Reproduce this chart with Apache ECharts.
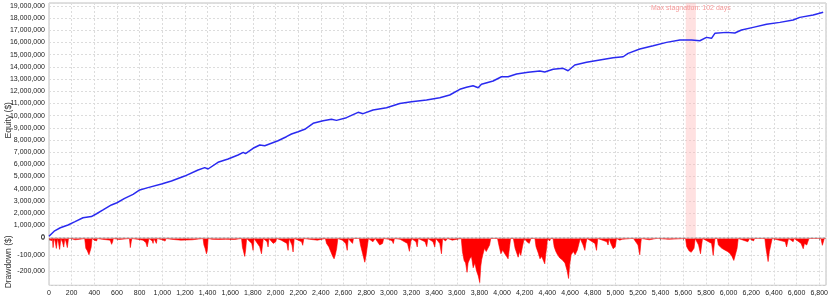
<!DOCTYPE html>
<html>
<head>
<meta charset="utf-8">
<script src="https://cdn.jsdelivr.net/npm/echarts@6/dist/echarts.min.js"></script>
<style>
html,body{margin:0;padding:0;background:#fff;}
#c{width:830px;height:297px;}
</style>
</head>
<body>
<div id="c"></div>
<script>
// Equity curve: [trade/day index, equity $]
const equityX = [0,50,100,168,230,300,374,420,477,551,600,668,742,801,874,993,1081,1198,1316,1375,1404,1492,1581,1669,1715,1735,1802,1861,1905,2022,2096,2141,2199,2258,2332,2420,2494,2538,2626,2729,2773,2861,2980,3097,3200,3333,3450,3538,3627,3686,3744,3789,3818,3921,3995,4053,4128,4230,4333,4377,4451,4539,4583,4642,4746,4863,4981,5069,5113,5216,5334,5452,5570,5673,5746,5805,5849,5879,5982,6055,6114,6217,6335,6453,6570,6629,6747,6835];
const equityY = [100000,550000,800000,1030000,1300000,1620000,1720000,1950000,2260000,2670000,2850000,3210000,3540000,3900000,4090000,4390000,4640000,5040000,5540000,5730000,5620000,6170000,6440000,6770000,6980000,6880000,7320000,7590000,7530000,7940000,8270000,8490000,8680000,8880000,9370000,9580000,9700000,9610000,9830000,10270000,10160000,10460000,10650000,11000000,11140000,11280000,11470000,11690000,12160000,12320000,12450000,12290000,12570000,12840000,13190000,13190000,13410000,13550000,13660000,13580000,13800000,13880000,13680000,14150000,14370000,14560000,14750000,14830000,15110000,15460000,15730000,16010000,16200000,16200000,16140000,16420000,16340000,16750000,16830000,16780000,17020000,17240000,17490000,17650000,17840000,18060000,18250000,18480000];

// Drawdown: [index, drawdown $]
const drawdownX = [0,20,30,36,45,55,65,75,85,94,105,120,130,140,150,162,172,185,195,230,240,270,280,315,325,338,353,362,372,380,400,412,420,428,470,478,540,553,562,568,620,628,710,718,726,732,780,790,830,840,855,867,875,882,912,919,926,940,948,955,1000,1010,1025,1035,1080,1090,1165,1175,1265,1275,1360,1368,1378,1390,1398,1405,1440,1450,1500,1510,1560,1570,1640,1650,1700,1708,1716,1728,1736,1745,1790,1802,1810,1860,1876,1885,1892,1925,1934,1942,1980,1993,2002,2010,2050,2060,2100,2111,2120,2145,2155,2165,2200,2210,2230,2240,2250,2300,2310,2370,2380,2440,2450,2470,2490,2505,2517,2528,2540,2550,2590,2600,2620,2633,2642,2680,2688,2740,2750,2768,2788,2800,2812,2820,2860,2870,2880,2900,2920,2935,2945,2955,3000,3010,3030,3040,3050,3100,3110,3165,3182,3192,3200,3240,3251,3260,3320,3335,3345,3390,3406,3415,3450,3465,3475,3500,3510,3520,3560,3570,3640,3650,3665,3678,3691,3700,3715,3730,3745,3760,3775,3790,3803,3812,3820,3830,3845,3860,3875,3890,3900,3960,3975,3990,4005,4024,4040,4053,4065,4075,4100,4115,4130,4142,4155,4165,4180,4195,4220,4240,4255,4290,4300,4320,4335,4350,4377,4385,4395,4400,4420,4430,4450,4460,4475,4490,4510,4530,4555,4575,4587,4597,4610,4630,4645,4665,4680,4690,4715,4731,4740,4750,4820,4834,4845,4925,4936,4945,4960,4981,5000,5010,5040,5060,5070,5140,5150,5160,5200,5216,5225,5230,5300,5310,5360,5370,5380,5470,5480,5620,5630,5650,5670,5682,5695,5705,5735,5752,5762,5770,5850,5864,5873,5880,5900,5910,5940,5965,5990,6010,6030,6046,6060,6075,6085,6170,6177,6185,6220,6230,6320,6330,6349,6360,6375,6385,6500,6512,6522,6530,6570,6580,6640,6659,6670,6690,6700,6710,6815,6828,6838,6845,6860];
const drawdownY = [0,-15000,0,-56000,0,-20000,-61000,0,-30000,-67000,0,-25000,-53000,0,-20000,-56000,0,-10000,0,-8000,0,-5000,0,0,-60000,-75000,-100000,-80000,-55000,0,-10000,-20000,-15000,0,-5000,0,-10000,-36000,-20000,0,-6000,0,0,-56000,-20000,0,-5000,0,-10000,0,-25000,-52000,-40000,0,-15000,-30000,0,-10000,-30000,0,-8000,0,-16000,0,-5000,0,-10000,0,-8000,0,0,-40000,-60000,-94000,-70000,0,-5000,0,-6000,0,-5000,0,-6000,0,0,-55000,-75000,-110000,-70000,0,-30000,-73000,0,-50000,-94000,-40000,0,-20000,-52000,0,-30000,-42000,-20000,0,-10000,0,-30000,-73000,0,-40000,-83000,0,-10000,0,-20000,-42000,0,-5000,0,-10000,0,0,-30000,-50000,-85000,-110000,-125000,-100000,-60000,0,-10000,0,-30000,-73000,0,-30000,0,0,-40000,-90000,-146000,-100000,-40000,0,-20000,-30000,0,-20000,-40000,-52000,-30000,0,-5000,0,-15000,-31000,0,-5000,0,-30000,-79000,-30000,0,-20000,-52000,0,-20000,-50000,0,-20000,-52000,0,-30000,-94000,0,-15000,-20000,0,-10000,0,0,-80000,-135000,-150000,-208000,-150000,-125000,-110000,-180000,-150000,-200000,-230000,-271000,-170000,-130000,-100000,-60000,-80000,-90000,-40000,0,0,-50000,-94000,-70000,-94000,-110000,-125000,-60000,0,0,-60000,-90000,-115000,-80000,-104000,-50000,0,-20000,-30000,0,0,-50000,-90000,-125000,-110000,-156000,-100000,-50000,0,-15000,0,0,-50000,-80000,-100000,-120000,-130000,-150000,-200000,-246000,-160000,-100000,-80000,-100000,-70000,-60000,0,-40000,-73000,-30000,0,-30000,-73000,0,-20000,-40000,0,-30000,-63000,-50000,0,-10000,-5000,0,0,-10000,0,-40000,-100000,-30000,0,-8000,0,0,-10000,0,-5000,0,0,-50000,-75000,-85000,-94000,-60000,0,-40000,-94000,-40000,0,-30000,-104000,-40000,0,0,-40000,-60000,-70000,-80000,-90000,-110000,-135000,-100000,-60000,0,-20000,-31000,0,-15000,0,0,-60000,-142000,-80000,-70000,0,-20000,-52000,-20000,0,-20000,0,-30000,-63000,-30000,-40000,-50000,0,0,-42000,-40000,0,0];

// Max stagnation period
const stagnationRange = [5622, 5711];
const stagnationLabel = 'Max stagnation: 102 days';

const equityData = equityX.map((x, i) => [x, equityY[i]]);
// drawdown axis is drawn inverted (depth below zero), so plot the depth
const drawdownData = drawdownX.map((x, i) => [x, -drawdownY[i]]);

const fmt = v => Math.round(v).toLocaleString('en-US');
const FONT = '"Liberation Sans", Arial, sans-serif';
const gridLine = {show: true, lineStyle: {color: '#dcdcdc', type: [2, 2], width: 1}};
const nameStyle = {fontSize: 8.5, color: '#333', fontFamily: FONT};

const chart = echarts.init(document.getElementById('c'), null, {renderer: 'canvas'});
chart.setOption({
  animation: false,
  backgroundColor: '#ffffff',
  grid: [
    {left: 49, right: 4, top: 3, height: 234.5, show: true, borderColor: '#c0c0c0', borderWidth: 1,
     backgroundColor: '#fff', containLabel: false, outerBoundsMode: 'none'},
    {left: 49, right: 4, top: 238.5, bottom: 11.7, show: true, borderColor: '#c0c0c0', borderWidth: 1,
     backgroundColor: '#fff', containLabel: false, outerBoundsMode: 'none'}
  ],
  xAxis: [
    {gridIndex: 0, type: 'value', min: 0, max: 6860, interval: 200,
     axisLine: {show: false}, axisTick: {show: false}, axisLabel: {show: false}, splitLine: gridLine},
    {gridIndex: 1, type: 'value', min: 0, max: 6860, interval: 200,
     axisLine: {show: false}, axisTick: {show: true, length: 2, lineStyle: {color: '#888'}},
     axisLabel: {show: true, fontSize: 7, color: '#222', fontFamily: FONT, margin: 4, formatter: fmt,
       showMaxLabel: false},
     splitLine: gridLine}
  ],
  yAxis: [
    {gridIndex: 0, type: 'value', min: 0, max: 19240000, interval: 1000000,
     name: 'Equity ($)', nameLocation: 'middle', nameRotate: 90, nameGap: 36, nameMoveOverlap: false,
     nameTextStyle: nameStyle,
     axisLine: {show: false}, axisTick: {show: false},
     axisLabel: {fontSize: 7, color: '#222', fontFamily: FONT, margin: 4, formatter: fmt, showMaxLabel: false},
     splitLine: gridLine},
    {gridIndex: 1, type: 'value', min: 0, max: 288000, interval: 100000, inverse: true,
     name: 'Drawdown ($)', nameLocation: 'middle', nameRotate: 90, nameGap: 36, nameMoveOverlap: false,
     nameTextStyle: nameStyle,
     axisLine: {show: false}, axisTick: {show: false},
     axisLabel: {fontSize: 7, color: '#222', fontFamily: FONT, margin: 4,
       formatter: v => v === 0 ? '0' : '-' + fmt(v), showMaxLabel: false},
     splitLine: gridLine}
  ],
  series: [
    {type: 'line', xAxisIndex: 0, yAxisIndex: 0, data: equityData, showSymbol: false, symbol: 'none',
     lineStyle: {color: '#2a2af0', width: 1.5}, z: 3,
     markArea: {silent: true,
       itemStyle: {color: 'rgba(255,180,180,0.4)'},
       label: {show: true, position: 'insideTop', color: '#f59a9a', fontSize: 7, fontFamily: FONT, distance: 2},
       data: [[{name: stagnationLabel, xAxis: stagnationRange[0]}, {xAxis: stagnationRange[1]}]]}},
    {type: 'line', xAxisIndex: 1, yAxisIndex: 1, data: drawdownData, showSymbol: false, symbol: 'none',
     lineStyle: {color: '#ff0000', width: 0.6}, areaStyle: {color: '#ff0000', opacity: 1, origin: 'start'}, z: 3}
  ]
});
</script>
</body>
</html>
